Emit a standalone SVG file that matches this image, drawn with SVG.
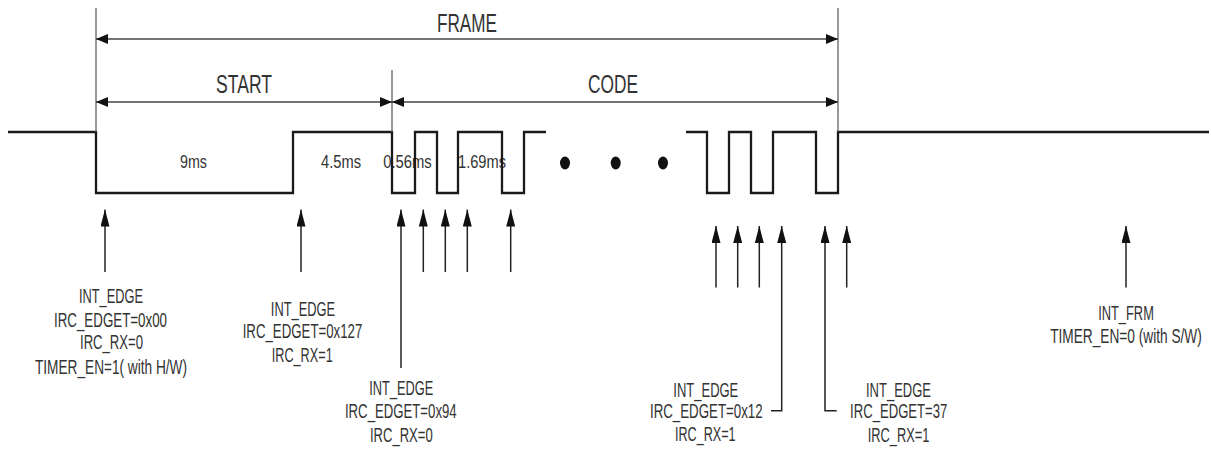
<svg xmlns="http://www.w3.org/2000/svg" width="1211" height="451" viewBox="0 0 1211 451">
<style>
.t{font-family:"Liberation Sans",Arial,sans-serif;fill:#333;text-anchor:middle}
.lab{font-size:20px}
.big{font-size:26px}
.ms{font-size:18.5px}
.wave{fill:none;stroke:#1a1a1a;stroke-width:2.3}
.bound{fill:none;stroke:#555;stroke-width:1.2}
.dim{fill:none;stroke:#444;stroke-width:1.5;marker-start:url(#dh);marker-end:url(#dh)}
.up{fill:none;stroke:#222;stroke-width:1.5;marker-end:url(#uh)}
</style>
<defs>
<marker id="dh" viewBox="0 0 12 10" refX="12" refY="5" markerWidth="12" markerHeight="10" markerUnits="userSpaceOnUse" orient="auto-start-reverse"><path d="M0,0 L12,5 L0,10 z" fill="#111"/></marker>
<marker id="uh" viewBox="0 0 17 9" refX="17" refY="4.5" markerWidth="17" markerHeight="9" markerUnits="userSpaceOnUse" orient="auto"><path d="M0,0 L17,4.5 L0,9 z" fill="#111"/></marker>
</defs>

<g id="timing-labels">
<text class="t ms" x="193.5" y="168" textLength="27" lengthAdjust="spacingAndGlyphs">9ms</text>
<text class="t ms" x="341" y="168" textLength="40" lengthAdjust="spacingAndGlyphs">4.5ms</text>
<text class="t ms" x="407.5" y="168" textLength="48.5" lengthAdjust="spacingAndGlyphs">0.56ms</text>
<text class="t ms" x="482" y="168" textLength="48" lengthAdjust="spacingAndGlyphs">1.69ms</text>
</g>

<g id="waveform">
<path class="wave" d="M8,132 H96 V193 H293 V132 H392 V193 H415 V132 H437 V193 H458 V132 H502 V193 H524 V132 H546"/>
<path class="wave" d="M686,132 H707 V193 H729 V132 H751 V193 H773 V132 H816 V193 H838 V132 H1209"/>
<ellipse cx="565" cy="163" rx="5" ry="6.5" fill="#111"/>
<ellipse cx="615.7" cy="163" rx="5" ry="6.5" fill="#111"/>
<ellipse cx="663" cy="163" rx="5" ry="6.5" fill="#111"/>
</g>

<g id="frame">
<text class="t big" x="467" y="31.5" textLength="60" lengthAdjust="spacingAndGlyphs">FRAME</text>
</g>
<g id="start">
<text class="t big" x="244" y="92.5" textLength="56" lengthAdjust="spacingAndGlyphs">START</text>
</g>
<g id="code">
<text class="t big" x="613" y="92.5" textLength="50" lengthAdjust="spacingAndGlyphs">CODE</text>
</g>

<g id="connectors">
<line class="bound" x1="96" y1="8" x2="96" y2="132"/>
<line class="bound" x1="392" y1="70" x2="392" y2="132"/>
<line class="bound" x1="838" y1="8" x2="838" y2="132"/>
<line class="dim" x1="96" y1="39" x2="838" y2="39"/>
<line class="dim" x1="96" y1="102" x2="392" y2="102"/>
<line class="dim" x1="392" y1="102" x2="838" y2="102"/>

<line class="up" x1="105" y1="272" x2="105" y2="209.5"/>
<line class="up" x1="301" y1="272" x2="301" y2="209.5"/>
<line class="up" x1="401" y1="368" x2="401" y2="209.5"/>
<line class="up" x1="423.3" y1="272" x2="423.3" y2="209.5"/>
<line class="up" x1="445.3" y1="272" x2="445.3" y2="209.5"/>
<line class="up" x1="467.3" y1="272" x2="467.3" y2="209.5"/>
<line class="up" x1="510.7" y1="272" x2="510.7" y2="209.5"/>

<line class="up" x1="716" y1="287.5" x2="716" y2="226"/>
<line class="up" x1="737.7" y1="287.5" x2="737.7" y2="226"/>
<line class="up" x1="759.3" y1="287.5" x2="759.3" y2="226"/>
<path class="up" d="M771,410.7 H781.7 V226"/>
<path class="up" d="M836.7,410.7 H825 V226"/>
<line class="up" x1="846.7" y1="287.5" x2="846.7" y2="226"/>
<line class="up" x1="1126" y1="287.5" x2="1126" y2="226"/>
</g>

<g id="edge-start">
<text class="t lab" x="111" y="303.3" textLength="64" lengthAdjust="spacingAndGlyphs">INT_EDGE</text>
<text class="t lab" x="110.5" y="326.7" textLength="113" lengthAdjust="spacingAndGlyphs">IRC_EDGET=0x00</text>
<text class="t lab" x="111.5" y="349.3" textLength="63" lengthAdjust="spacingAndGlyphs">IRC_RX=0</text>
<text class="t lab" x="111" y="374" textLength="152" lengthAdjust="spacingAndGlyphs">TIMER_EN=1( with H/W)</text>
</g>

<g id="edge-127">
<text class="t lab" x="303" y="316" textLength="64.3" lengthAdjust="spacingAndGlyphs">INT_EDGE</text>
<text class="t lab" x="302.5" y="338.3" textLength="119.6" lengthAdjust="spacingAndGlyphs">IRC_EDGET=0x127</text>
<text class="t lab" x="302.2" y="361.7" textLength="61" lengthAdjust="spacingAndGlyphs">IRC_RX=1</text>
</g>

<g id="edge-94">
<text class="t lab" x="401.3" y="395" textLength="64" lengthAdjust="spacingAndGlyphs">INT_EDGE</text>
<text class="t lab" x="400.8" y="418.3" textLength="111.7" lengthAdjust="spacingAndGlyphs">IRC_EDGET=0x94</text>
<text class="t lab" x="401.3" y="441.7" textLength="62.7" lengthAdjust="spacingAndGlyphs">IRC_RX=0</text>
</g>

<g id="edge-12">
<text class="t lab" x="705.8" y="396.7" textLength="65" lengthAdjust="spacingAndGlyphs">INT_EDGE</text>
<text class="t lab" x="706.3" y="418.3" textLength="112.7" lengthAdjust="spacingAndGlyphs">IRC_EDGET=0x12</text>
<text class="t lab" x="705.3" y="440.7" textLength="60.7" lengthAdjust="spacingAndGlyphs">IRC_RX=1</text>
</g>

<g id="edge-37">
<text class="t lab" x="898.5" y="396.5" textLength="65" lengthAdjust="spacingAndGlyphs">INT_EDGE</text>
<text class="t lab" x="898.7" y="418.3" textLength="97.3" lengthAdjust="spacingAndGlyphs">IRC_EDGET=37</text>
<text class="t lab" x="898.5" y="441.5" textLength="61.7" lengthAdjust="spacingAndGlyphs">IRC_RX=1</text>
</g>

<g id="int-frm">
<text class="t lab" x="1126" y="320" textLength="55.7" lengthAdjust="spacingAndGlyphs">INT_FRM</text>
<text class="t lab" x="0" y="0" transform="translate(1126,343.3) scale(0.684,1)">TIMER_EN=0 (with S/W)</text>
</g>
</svg>
